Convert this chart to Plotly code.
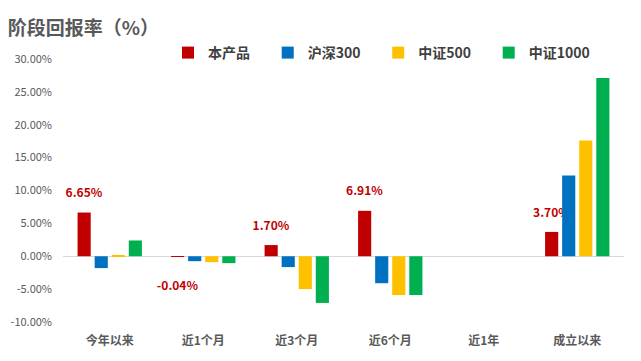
import plotly.graph_objects as go

categories = ["今年以来", "近1个月", "近3个月", "近6个月", "近1年", "成立以来"]
product = [6.65, -0.04, 1.70, 6.91, None, 3.70]
hs300 = [-1.8, -0.75, -1.65, -4.1, None, 12.3]
zz500 = [0.2, -0.9, -5.0, -5.9, None, 17.6]
zz1000 = [2.4, -1.05, -7.1, -5.9, None, 27.1]
series_names = ["本产品", "沪深300", "中证500", "中证1000"]
colors = ["#C00000", "#0070C0", "#FFC000", "#00B050"]
tick_vals = [-10, -5, 0, 5, 10, 15, 20, 25, 30]
tick_text = [f"{v:.2f}%" for v in tick_vals]

FONT = "Noto Sans CJK SC"
NB = "\u00a0"

def label(v):
    if v is None:
        return ""
    t = f"<span style='font-size:12px'><b>{v:.2f}%</b></span>"
    return f"{t}<br> " if v >= 0 else f" <br>{t}"

def label_size(v):
    return 12 if (v is not None and v < 0) else 8

fig = go.Figure()
for name, vals, c in zip(series_names, [product, hs300, zz500, zz1000], colors):
    kw = {}
    if name == "本产品":
        kw = dict(text=[label(v) for v in vals], textposition="outside",
                  constraintext="none",
                  textfont=dict(color="#C00000", size=[label_size(v) for v in vals],
                                family=FONT),
                  cliponaxis=False)
    fig.add_trace(go.Bar(x=categories, y=vals, name=name + NB * 4, marker_color=c,
                         marker_line_width=0, **kw))

fig.update_layout(
    width=641, height=361,
    margin=dict(l=63, r=17, t=59, b=39, autoexpand=False),
    paper_bgcolor="white", plot_bgcolor="white",
    barmode="group", bargap=0.27, bargroupgap=0.23,
    font=dict(family=FONT, color="#595959"),
    title=dict(text="<b>阶段回报率（%）</b>", x=0.012, xanchor="left", xref="container",
               y=1 - 28/361, yanchor="middle", yref="container",
               font=dict(size=19, color="#595959", family=FONT)),
    legend=dict(orientation="h", x=168/641, xanchor="left", xref="container",
                y=1 - 53/361, yanchor="middle", yref="container",
                font=dict(size=14, color="#404040", family=FONT, weight="bold"),
                traceorder="normal"),
    showlegend=True,
)
fig.update_xaxes(showline=False, showgrid=False, ticks="", ticklabelstandoff=10,
                 tickfont=dict(size=12, color="#595959", family=FONT, weight="bold"))
fig.update_yaxes(range=[-10, 30], tickvals=tick_vals, ticktext=tick_text,
                 showgrid=False, zeroline=True, zerolinecolor="#D9D9D9",
                 zerolinewidth=1, showline=False,
                 tickfont=dict(size=11, color="#595959", family=FONT),
                 ticklabelstandoff=10)

fig.write_html("out.html", config={"displayModeBar": False},
               post_script="document.body.style.margin='0';")
